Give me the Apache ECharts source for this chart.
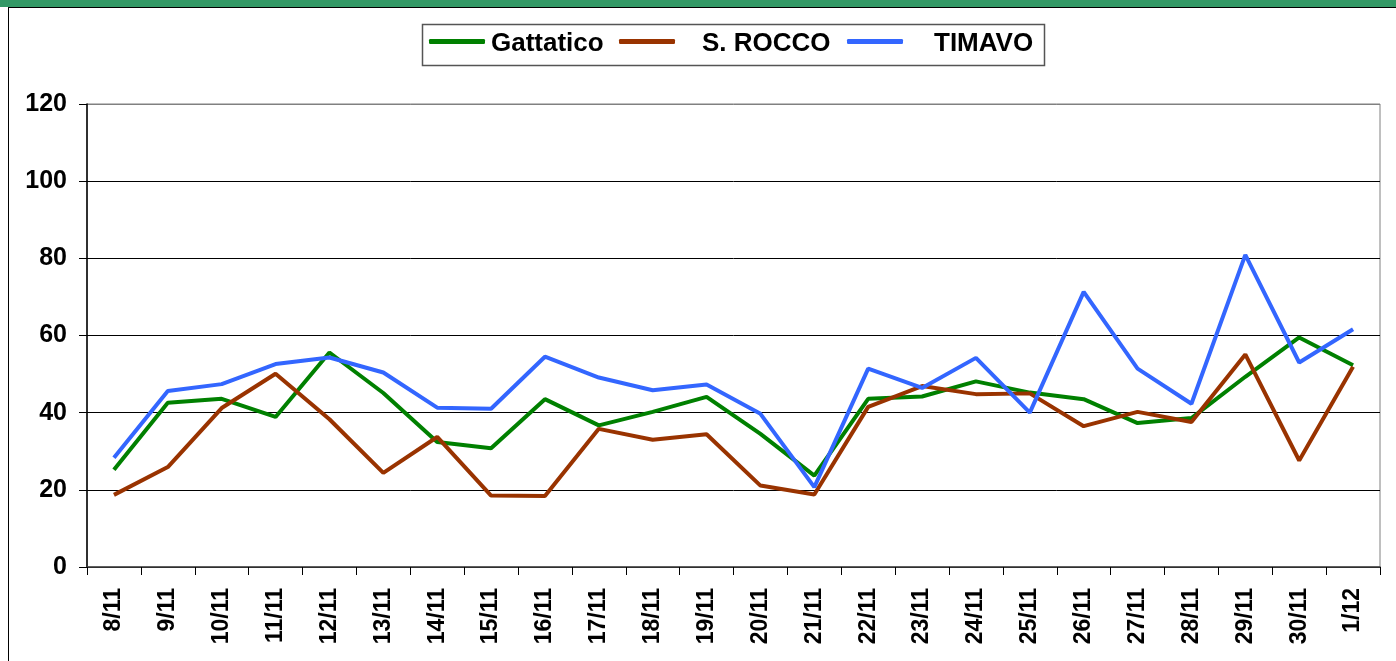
<!DOCTYPE html>
<html>
<head>
<meta charset="utf-8">
<script src="https://cdn.jsdelivr.net/npm/echarts@6/dist/echarts.min.js"></script>
<style>
html,body{margin:0;padding:0;background:#fff;}
#c{width:1396px;height:661px;}
</style>
</head>
<body>
<div id="c"></div>
<script>
var categories = ['8/11','9/11','10/11','11/11','12/11','13/11','14/11','15/11','16/11','17/11','18/11','19/11','20/11','21/11','22/11','23/11','24/11','25/11','26/11','27/11','28/11','29/11','30/11','1/12'];
var gattatico = [25.2,42.6,43.6,38.9,55.6,45.1,32.4,30.8,43.5,36.7,40.2,44.1,34.5,23.7,43.6,44.2,48.1,45.2,43.5,37.3,38.6,49.3,59.5,52.3];
var sRocco = [18.7,25.9,41.2,50.1,38.3,24.4,33.7,18.5,18.4,35.8,33.0,34.4,21.1,18.8,41.5,46.9,44.8,45.0,36.5,40.2,37.6,55.1,27.6,51.9];
var timavo = [28.3,45.6,47.4,52.6,54.3,50.4,41.3,41.0,54.5,49.1,45.8,47.3,39.7,20.7,51.4,46.4,54.2,40.0,71.3,51.4,42.3,80.9,53.0,61.6];
var yTicks = [0,20,40,60,80,100,120];

var FONT = '"Liberation Sans", Arial, sans-serif';
var chart = echarts.init(document.getElementById('c'), null, {renderer:'canvas'});

function legendItem(name, left, gap){
  return {
    show:true, data:[name], left:left, top:26, padding:0,
    icon:'roundRect', itemWidth:56, itemHeight:5, selectedMode:false,
    formatter:function(n){ return '{s|}{t|' + n + '}'; },
    textStyle:{
      color:'#000', fontFamily:FONT, fontWeight:'bold', fontSize:26, lineHeight:30,
      rich:{ s:{width:gap, height:30}, t:{fontFamily:FONT, fontWeight:'bold', fontSize:26, color:'#000', lineHeight:30, padding:[5,0,0,0]} }
    }
  };
}

var splitColors = yTicks.map(function(v, i){ return i === yTicks.length - 1 ? '#808080' : '#000'; });

var option = {
  animation:false,
  backgroundColor:'#fff',
  graphic:[
    {type:'rect', shape:{x:0,y:0,width:1396,height:7}, style:{fill:'#339966'}, silent:true, z:-10},
    {type:'line', shape:{x1:8,y1:7.5,x2:1396,y2:7.5}, style:{stroke:'#000', lineWidth:1}, silent:true},
    {type:'line', shape:{x1:8.5,y1:7,x2:8.5,y2:661}, style:{stroke:'#000', lineWidth:1}, silent:true},
    {type:'rect', shape:{x:422.5,y:24.5,width:622,height:41}, style:{fill:'#fff', stroke:'#555', lineWidth:1.5}, silent:true, z:-1}
  ],
  legend:[
    legendItem('Gattatico', 429, 1),
    legendItem('S. ROCCO', 619, 22),
    legendItem('TIMAVO', 847, 26)
  ],
  grid:{left:87, right:16, top:104, bottom:94, show:true, borderColor:'#808080', borderWidth:1, backgroundColor:'transparent'},
  xAxis:{
    type:'category', data:categories, boundaryGap:true,
    axisLine:{show:true, lineStyle:{color:'#404040', width:1.5}},
    axisTick:{show:true, length:8, inside:false, alignWithLabel:false, lineStyle:{color:'#000'}},
    axisLabel:{rotate:90, margin:21, interval:0, color:'#000', fontFamily:FONT, fontWeight:'bold', fontSize:23},
    splitLine:{show:false}
  },
  yAxis:{
    type:'value', min:yTicks[0], max:yTicks[yTicks.length-1], interval:20,
    axisLine:{show:true, lineStyle:{color:'#000', width:1.5}},
    axisTick:{show:true, length:8, lineStyle:{color:'#000'}},
    axisLabel:{margin:20, color:'#000', fontFamily:FONT, fontWeight:'bold', fontSize:25, padding:[4,0,0,0]},
    splitLine:{show:true, lineStyle:{color:splitColors, width:1}}
  },
  series:[
    {name:'Gattatico', type:'line', data:gattatico, showSymbol:false, symbol:'none', color:'#008000', lineStyle:{color:'#008000', width:4}},
    {name:'S. ROCCO', type:'line', data:sRocco, showSymbol:false, symbol:'none', color:'#993300', lineStyle:{color:'#993300', width:4}},
    {name:'TIMAVO', type:'line', data:timavo, showSymbol:false, symbol:'none', color:'#3366FF', lineStyle:{color:'#3366FF', width:4}}
  ]
};
chart.setOption(option);
</script>
</body>
</html>
